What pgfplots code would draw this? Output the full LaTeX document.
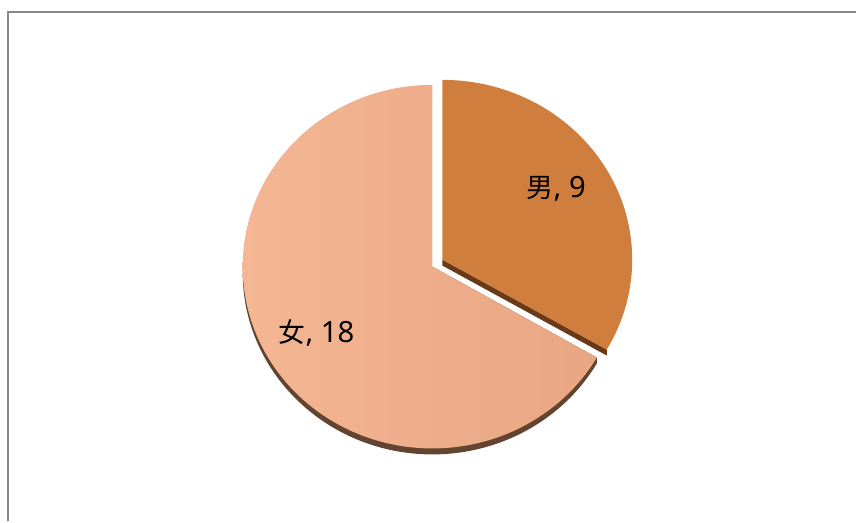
\documentclass[border=0pt]{standalone}
\usepackage{pgfplots}
\pgfplotsset{compat=1.18}
\usepackage{pgfplotstable}
\usepackage{fontspec}
\newfontfamily\cjk{Noto Sans CJK SC}
\newfontfamily\lat{Noto Sans}
\definecolor{maleC}{HTML}{CF7E3D}
\definecolor{maleWall}{HTML}{6A3A16}
\definecolor{femL}{HTML}{F4B693}
\definecolor{femR}{HTML}{E9A683}
\definecolor{femWall}{HTML}{624430}
\definecolor{frameC}{HTML}{888888}
\pgfplotstableread{
idx value
0 9
1 18
}\piedata
\pgfplotstablegetelem{0}{value}\of\piedata \let\vM\pgfplotsretval
\pgfplotstablegetelem{1}{value}\of\piedata \let\vF\pgfplotsretval
\pgfmathsetmacro\aEnd{90-360*\vM/(\vM+\vF)}
\pgfmathsetmacro\aEndF{\aEnd+360}
\newcommand\lab[2]{{\cjk\fontsize{13.5}{16}\selectfont #1}{\lat\fontsize{14.7}{16}\selectfont , #2}}
\begin{document}
\begin{tikzpicture}
\begin{axis}[hide axis, scale only axis, x=0.5bp, y=0.5bp,
  xmin=0, xmax=857, ymin=0, ymax=522, clip=false]
\path (0,0) rectangle (857,522);
% frame
\draw[frameC, line width=1.1bp] (8,0) -- (8,510) -- (857,510);
% female wall (3D side)
\fill[femWall] (433,249) ++(180:95bp and 91bp)
  arc[start angle=180, end angle=\aEndF, x radius=95bp, y radius=91bp]
  -- ++(0,3bp) -- (433,255) -- cycle;
% female face
\shade[left color=femL, right color=femR] (433,255) -- ++(90:95bp and 91bp)
  arc[start angle=90, end angle=\aEndF, x radius=95bp, y radius=91bp] -- cycle;
% male wall (radial edge only)
\fill[maleWall] (443,256) -- ++(\aEnd:95bp and 90bp) -- ++(0,3bp) -- (443,262) -- cycle;
% male face
\fill[maleC] (443,262) -- ++(90:95bp and 90bp)
  arc[start angle=90, end angle=\aEnd, x radius=95bp, y radius=90bp] -- cycle;
\node[anchor=base, inner sep=0pt] at (557,324) {\lab{男}{\vM}};
\node[anchor=base, inner sep=0pt] at (317,179) {\lab{女}{\vF}};
\end{axis}
\end{tikzpicture}
\end{document}
